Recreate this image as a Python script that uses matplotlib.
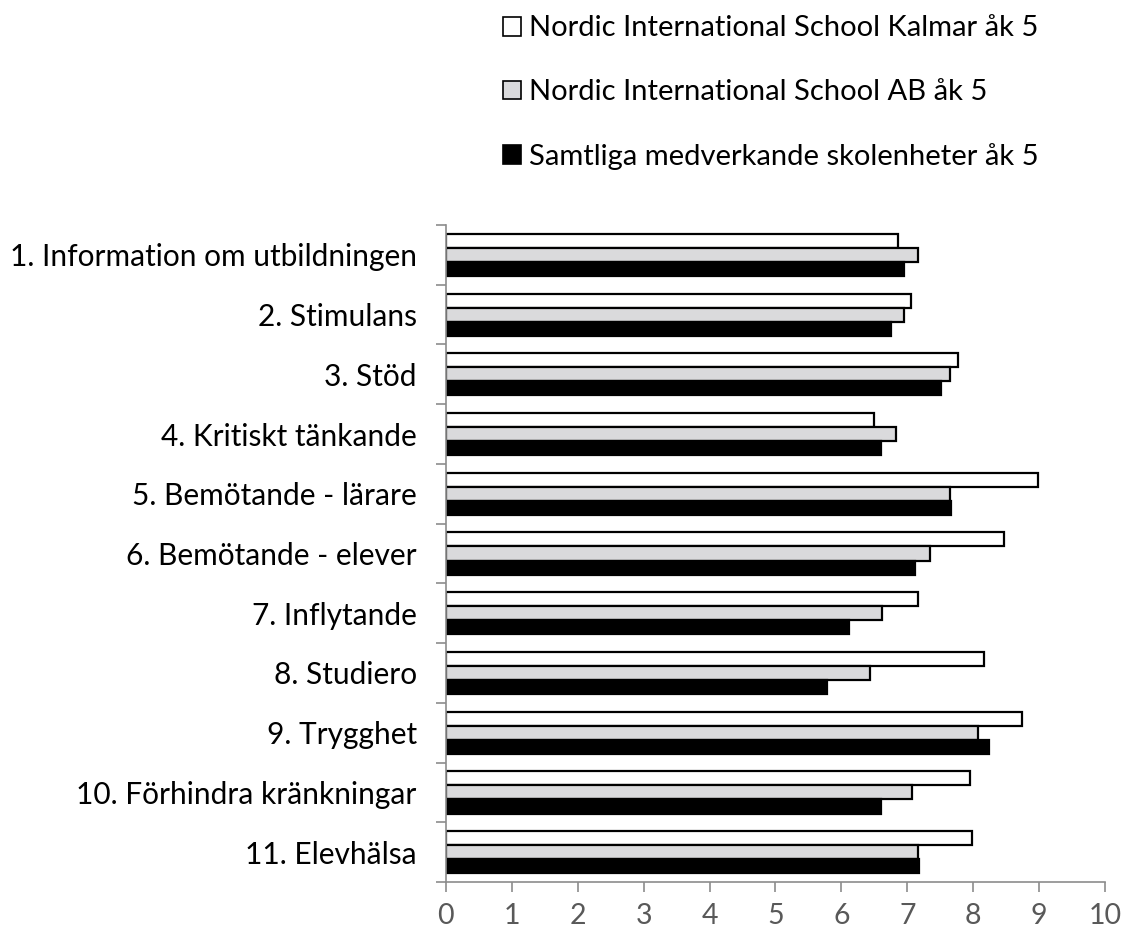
import numpy as np
import matplotlib.pyplot as plt
from matplotlib.patches import Patch
from matplotlib.ticker import FixedLocator

plt.rcParams["font.family"] = ["Lato", "DejaVu Sans"]

categories = [
    "1. Information om utbildningen",
    "2. Stimulans",
    "3. Stöd",
    "4. Kritiskt tänkande",
    "5. Bemötande - lärare",
    "6. Bemötande - elever",
    "7. Inflytande",
    "8. Studiero",
    "9. Trygghet",
    "10. Förhindra kränkningar",
    "11. Elevhälsa",
]
series_names = [
    "Nordic International School Kalmar åk 5",
    "Nordic International School AB åk 5",
    "Samtliga medverkande skolenheter åk 5",
]
kalmar = [6.86, 7.05, 7.77, 6.49, 8.98, 8.47, 7.16, 8.16, 8.74, 7.95, 7.98]
nis_ab = [7.17, 6.95, 7.65, 6.83, 7.65, 7.35, 6.62, 6.43, 8.07, 7.07, 7.16]
samtliga = [6.95, 6.75, 7.51, 6.60, 7.66, 7.11, 6.11, 5.78, 8.24, 6.60, 7.18]

colors = ["white", "#dadadc", "black"]
GRAY = "#8c8c8c"

fig = plt.figure(figsize=(11.23, 9.32), dpi=100)
ax = fig.add_axes([0.397, 0.0536, 0.587, 0.705])

n = len(categories)
y = np.arange(n)
h = 0.235
for k, vals in enumerate([kalmar, nis_ab, samtliga]):
    ax.barh(y + (k - 1) * h, vals, height=h, color=colors[k],
            edgecolor="black", linewidth=1.6, label=series_names[k])

ax.set_ylim(n - 0.5, -0.5)
ax.set_xlim(0, 10)
ax.set_xticks(range(11))
ax.set_yticks(y)
ax.set_yticklabels(categories, fontsize=21.5)
ax.yaxis.set_minor_locator(FixedLocator(np.arange(-0.5, n, 1)))
ax.tick_params(axis="y", which="major", length=0, pad=21)
ax.tick_params(axis="y", which="minor", length=7, color=GRAY, width=1.2)
ax.tick_params(axis="x", length=7, color=GRAY, width=1.2, labelsize=20.5,
               labelcolor="#595959", pad=8)

for s in ["top", "right"]:
    ax.spines[s].set_visible(False)
for s in ["left", "bottom"]:
    ax.spines[s].set_color(GRAY)
    ax.spines[s].set_linewidth(1.2)

handles = [Patch(facecolor=c, edgecolor="black", linewidth=1.2) for c in colors]
fig.legend(handles, series_names, loc="upper left", bbox_to_anchor=(0.427, 1.0086),
           frameon=False, fontsize=21, handlelength=0.62, handleheight=0.62,
           handletextpad=0.27, labelspacing=1.3, borderpad=0.3)

fig.savefig("out.png", dpi=100)
